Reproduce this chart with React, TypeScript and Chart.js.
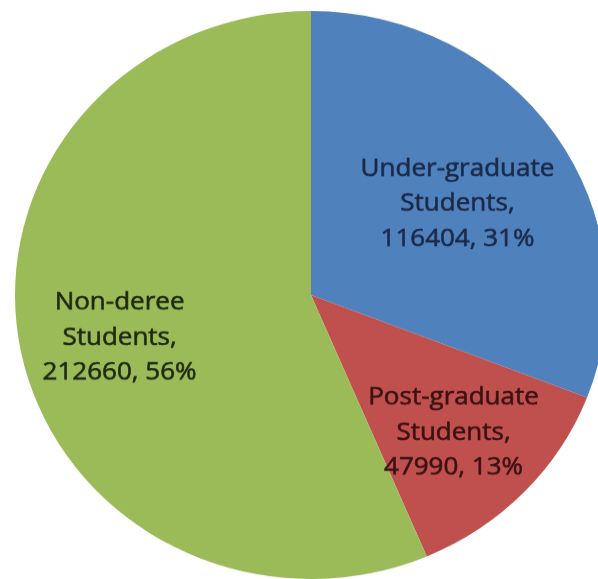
import React, { useEffect, useRef } from "react";
import { Chart, registerables } from "chart.js";

Chart.register(...registerables);

const categoryLines: string[][] = [
  ["Under-graduate", "Students"],
  ["Post-graduate", "Students"],
  ["Non-deree", "Students"],
];
const values: number[] = [116404, 47990, 212660];
const sliceColors: string[] = ["#4F81BD", "#C0504D", "#9BBB59"];
const labelColors: string[] = ["#1b2a49", "#3b1213", "#1d2a10"];
const labelRadius: number[] = [0.6, 0.67, 0.66];

const labelPlugin = {
  id: "sliceLabels",
  afterDatasetsDraw(chart: any) {
    const ctx = chart.ctx;
    const meta = chart.getDatasetMeta(0);
    const data = chart.data.datasets[0].data as number[];
    const total = data.reduce((a, b) => a + b, 0);
    ctx.save();
    ctx.font = '26px "Open Sans", sans-serif';
    ctx.textAlign = "center";
    ctx.textBaseline = "middle";
    ctx.lineWidth = 0.6;
    const lh = 36.5;
    const dy = 5.5;
    meta.data.forEach((arc: any, i: number) => {
      const { x, y, startAngle, endAngle, outerRadius } = arc.getProps(
        ["x", "y", "startAngle", "endAngle", "outerRadius"],
        true
      );
      const mid = (startAngle + endAngle) / 2;
      const px = x + Math.cos(mid) * outerRadius * labelRadius[i];
      const py = y + Math.sin(mid) * outerRadius * labelRadius[i] + dy;
      const names = categoryLines[i].slice();
      names[names.length - 1] = names[names.length - 1] + ",";
      const pct = Math.round((data[i] / total) * 100);
      const lines = [...names, `${data[i]}, ${pct}%`];
      const startY = py - ((lines.length - 1) * lh) / 2;
      ctx.fillStyle = labelColors[i];
      ctx.strokeStyle = labelColors[i];
      lines.forEach((ln, k) => {
        ctx.fillText(ln, px, startY + k * lh);
        ctx.strokeText(ln, px, startY + k * lh);
      });
    });
    ctx.restore();
  },
};

export default function App() {
  const ref = useRef<HTMLCanvasElement | null>(null);
  useEffect(() => {
    if (!ref.current) return;
    const chart = new Chart(ref.current, {
      type: "pie",
      data: {
        labels: categoryLines.map((l) => l.join(" ")),
        datasets: [
          {
            data: values,
            backgroundColor: sliceColors,
            borderWidth: 0,
          },
        ],
      },
      options: {
        responsive: false,
        maintainAspectRatio: false,
        animation: false,
        layout: { padding: 0 },
        plugins: {
          legend: { display: false },
          tooltip: { enabled: false },
        },
      },
      plugins: [labelPlugin],
    });
    return () => chart.destroy();
  }, []);
  return (
    <div
      style={{
        position: "absolute",
        left: 0,
        top: 0,
        width: 598,
        height: 579,
        overflow: "hidden",
        background: "#ffffff",
      }}
    >
      <canvas
        ref={ref}
        width={592}
        height={592}
        style={{
          position: "absolute",
          left: 15,
          top: 11,
          transform: "scaleY(0.9595)",
          transformOrigin: "0 0",
        }}
      />
    </div>
  );
}
